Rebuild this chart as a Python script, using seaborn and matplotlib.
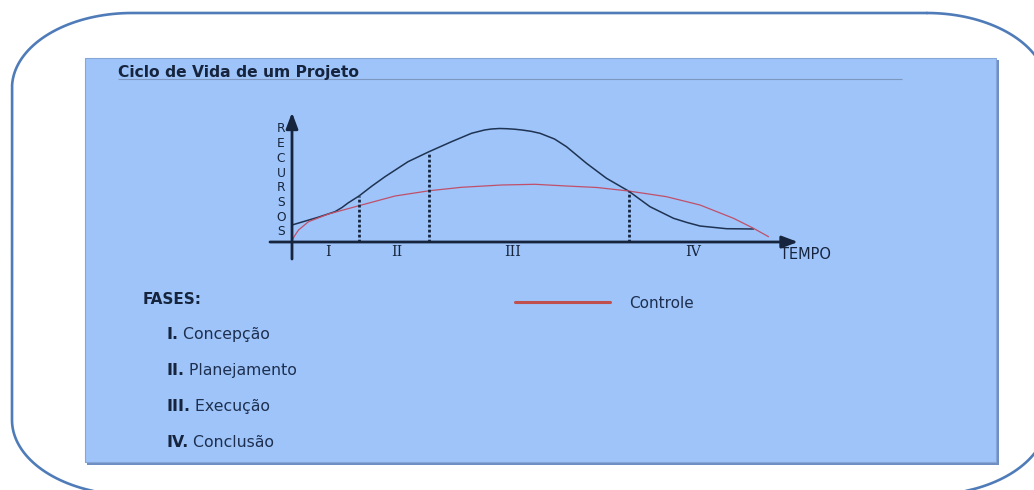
import numpy as np
import matplotlib
matplotlib.use("Agg")
import matplotlib.pyplot as plt
import seaborn as sns
from matplotlib.patches import Rectangle

# ---- data (time units vs resource units) ----
resources_t = [0.0, 0.52, 0.86, 1.0, 1.12, 1.34, 1.6, 1.86, 2.32, 2.74, 3.19, 3.59,
               3.85, 3.99, 4.15, 4.29, 4.45, 4.6, 4.78, 4.96, 5.25, 5.49, 5.89,
               6.29, 6.73, 7.16, 7.63, 7.9, 8.16, 8.69, 9.23]
resources_r = [1.7, 2.47, 3.03, 3.45, 3.9, 4.6, 5.6, 6.53, 8.03, 9.03, 10.03, 10.87,
               11.2, 11.3, 11.35, 11.33, 11.28, 11.2, 11.07, 10.87, 10.3, 9.53, 7.87,
               6.37, 5.1, 3.53, 2.37, 1.95, 1.6, 1.33, 1.3]

control_t = [0.0, 0.05, 0.13, 0.33, 0.73, 1.34, 2.06, 2.75, 3.39, 4.19, 4.86,
             5.49, 6.1, 6.73, 7.49, 8.16, 8.83, 9.23, 9.53]
control_r = [0.13, 0.6, 1.2, 2.03, 2.8, 3.63, 4.6, 5.13, 5.47, 5.7, 5.77,
             5.6, 5.45, 5.1, 4.53, 3.7, 2.37, 1.37, 0.53]

phase_bounds_t = [1.34, 2.74, 6.73]
phase_bounds_r = [4.6, 9.03, 5.1]
phase_labels = ["I", "II", "III", "IV"]
phase_label_t = [0.72, 2.1, 4.42, 8.02]

fases_roman = ["I.", "II.", "III.", "IV."]
fases_names = [" Concepção", " Planejamento", " Execução", " Conclusão"]

title = "Ciclo de Vida de um Projeto"
navy = "#16253d"
curve_navy = "#1f3352"
red = "#c0506a"

sns.set_theme(style="white")
plt.rcParams["font.family"] = ["DejaVu Sans"]

W, H = 1034, 490
fig = plt.figure(figsize=(W / 100, H / 100), dpi=100)
fig.patch.set_facecolor("white")

# ---- background layer in pixel coordinates ----
bg = fig.add_axes([0, 0, 1, 1])
bg.set_xlim(0, W)
bg.set_ylim(H, 0)
bg.axis("off")

# rounded frame with elliptical corners
L, R, T, B, rx, ry = 12, 1047, 13, 495, 120, 75
corners = [((R - rx, T + ry), -np.pi / 2, 0.0),
           ((R - rx, B - ry), 0.0, np.pi / 2),
           ((L + rx, B - ry), np.pi / 2, np.pi),
           ((L + rx, T + ry), np.pi, 1.5 * np.pi)]
fx, fy = [], []
for (cx, cy), a0, a1 in corners:
    ang = np.linspace(a0, a1, 40)
    fx.extend(cx + rx * np.cos(ang))
    fy.extend(cy + ry * np.sin(ang))
fx.append(fx[0])
fy.append(fy[0])
bg.plot(fx, fy, color="#4f7cb8", lw=1.9, solid_capstyle="round")

# panel with soft shadow
bg.add_patch(Rectangle((87, 60), 912, 405, facecolor="#6f8fc2", edgecolor="none"))
bg.add_patch(Rectangle((85, 58), 911, 404, facecolor="#9ec4f9",
                       edgecolor="#86a6d8", lw=0.8))

bg.text(118, 72, title, fontsize=11.2, fontweight="bold", color=navy,
        va="center", ha="left")
bg.hlines(79.5, 118, 902, color="#7d97c0", lw=0.8)

bg.text(143, 299, "FASES:", fontsize=11, fontweight="bold", color=navy,
        va="center", ha="left")
for i, (rom, name) in enumerate(zip(fases_roman, fases_names)):
    y = 334 + i * 36
    t = bg.text(166, y, rom, fontsize=11.3, fontweight="bold", color=navy,
                va="center", ha="left")
    bg.annotate(name, xy=(1, 0), xycoords=t, va="bottom", ha="left",
                fontsize=11.3, color="#1e2f4f")

# ---- chart axes: origin at pixel (292, 242) ----
x0, x1, y0, y1 = -0.5, 10.5, -2.0, 13.5
left_px, bottom_px = 292 + x0 * 50, 242 - y0 * 10
ax = fig.add_axes([left_px / W, (H - bottom_px) / H,
                   (x1 - x0) * 50 / W, (y1 - y0) * 10 / H])
ax.set_xlim(x0, x1)
ax.set_ylim(y0, y1)
ax.axis("off")

sns.lineplot(x=resources_t, y=resources_r, ax=ax, color=curve_navy, lw=1.1,
             sort=False, estimator=None)
sns.lineplot(x=control_t, y=control_r, ax=ax, color=red, lw=0.9,
             sort=False, estimator=None, label="Controle")
ctrl_line = ax.lines[-1]

ax.vlines(phase_bounds_t, 0, phase_bounds_r, colors=navy, lw=2.0,
          linestyles=[(0, (1, 0.8))])

arrow = dict(arrowstyle="-|>,head_length=0.8,head_width=0.3", color=navy,
             lw=2.0, shrinkA=0, shrinkB=0, mutation_scale=12)
ax.annotate("", xy=(10.12, 0), xytext=(-0.44, 0), arrowprops=arrow)
ax.annotate("", xy=(0, 12.95), xytext=(0, -1.7), arrowprops=arrow)

for lab, tx in zip(phase_labels, phase_label_t):
    ax.text(tx, -1.0, lab, family="DejaVu Serif", fontsize=10.3, color=navy,
            ha="center", va="center")
ax.text(10.28, -1.25, "TEMPO", family="DejaVu Sans", fontsize=10.5, color=navy,
        ha="center", va="center")
for i, ch in enumerate("RECURSOS"):
    ax.text(-0.22, 11.3 - i * 1.47, ch, family="DejaVu Sans", fontsize=8.8,
            color=navy, ha="center", va="center")

leg = ax.legend(handles=[ctrl_line], labels=["Controle"], loc="center left",
                bbox_to_anchor=(515 / W, 1 - 303 / H),
                bbox_transform=fig.transFigure, frameon=False,
                handlelength=6.2, handletextpad=1.3, borderpad=0,
                borderaxespad=0, fontsize=11)
for ln in leg.get_lines():
    ln.set_linewidth(2.2)
    ln.set_color("#c0504d")
for txt in leg.get_texts():
    txt.set_color("#1e2f4f")

fig.savefig("out.png", dpi=100, facecolor="white")
